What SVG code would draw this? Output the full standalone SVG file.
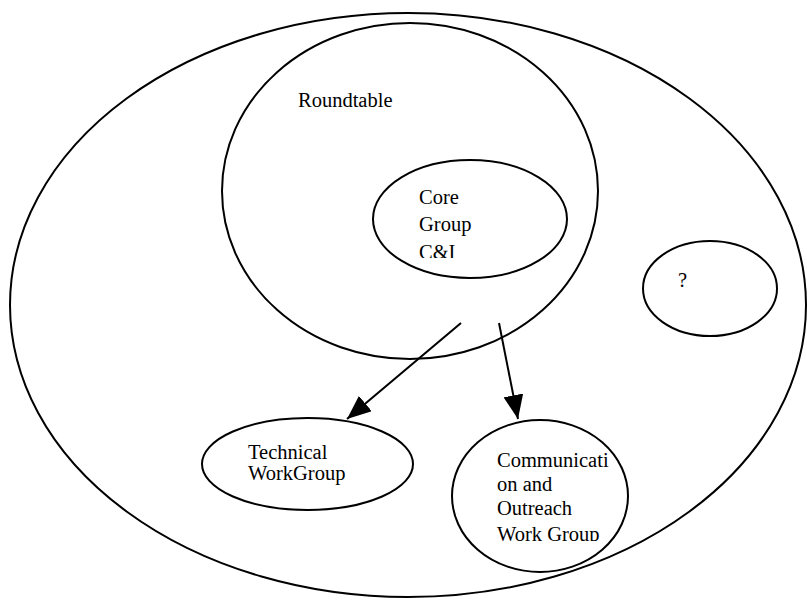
<svg xmlns="http://www.w3.org/2000/svg" width="807" height="611" viewBox="0 0 807 611">
<style>
.e{fill:none;stroke:#000;stroke-width:2}
.t{font-family:"Liberation Serif","Times New Roman",serif;fill:#000}
.big{font-size:20.5px}
.small{font-size:20.5px}
.c{stroke:#000;stroke-width:2;fill:none}
</style>
<defs>
<marker id="ah" markerWidth="24" markerHeight="20" refX="24" refY="10" orient="auto" markerUnits="userSpaceOnUse">
<path d="M0,0 L24,10 L0,20 Z" fill="#000"/>
</marker>
<clipPath id="clipCore"><rect x="360" y="150" width="220" height="108"/></clipPath>
<clipPath id="clipComm"><rect x="450" y="420" width="180" height="121"/></clipPath>
</defs>
<g id="outer"><ellipse class="e" cx="408" cy="305" rx="398" ry="292"/></g>
<g id="roundtable"><ellipse class="e" cx="410" cy="191" rx="188" ry="168"/>
<text class="t big" x="298" y="107">Roundtable</text></g>
<g id="core"><ellipse class="e" cx="470" cy="219" rx="97" ry="59"/>
<g clip-path="url(#clipCore)"><text class="t big"><tspan x="419" y="204">Core</tspan><tspan x="419" y="231">Group</tspan><tspan x="419" y="259">C&amp;I</tspan></text></g></g>
<g id="unknown"><ellipse class="e" cx="710" cy="288.5" rx="67" ry="47.5"/>
<text class="t big" x="678" y="287">?</text></g>
<g id="technical"><ellipse class="e" cx="307.5" cy="464" rx="105.5" ry="46"/>
<text class="t small"><tspan x="248" y="459">Technical</tspan><tspan x="248" y="480">WorkGroup</tspan></text></g>
<g id="communication"><ellipse class="e" cx="540" cy="496" rx="88" ry="76"/>
<g clip-path="url(#clipComm)"><text class="t small"><tspan x="497" y="467">Communicati</tspan><tspan x="497" y="491">on and</tspan><tspan x="497" y="515">Outreach</tspan><tspan x="497" y="541">Work Group</tspan></text></g></g>
<g id="connectors">
<line class="c" x1="461" y1="323" x2="347" y2="419" marker-end="url(#ah)"/>
<line class="c" x1="499" y1="323" x2="518" y2="419" marker-end="url(#ah)"/>
</g>
</svg>
